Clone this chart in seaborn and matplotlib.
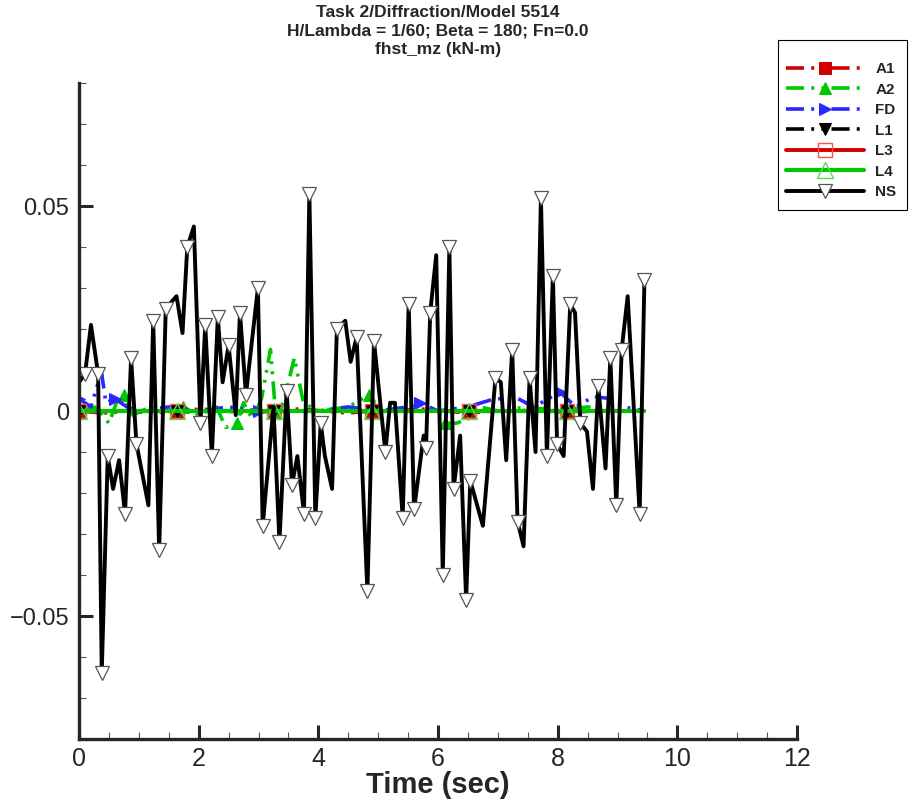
"""
Time history of fhst_mz for Task 2 / Diffraction / Model 5514.
"""

import matplotlib

matplotlib.use("Agg")
import matplotlib.pyplot as plt
import seaborn as sns
from matplotlib.patches import Rectangle
from matplotlib.ticker import MultipleLocator

# --- data ----------------------------------------------------------------
ns_t = [0.00, 0.10, 0.20, 0.32, 0.38, 0.48, 0.57, 0.67, 0.77, 0.87, 0.96, 1.16,
        1.24, 1.34, 1.45, 1.63, 1.73, 1.81, 1.92, 2.03, 2.11, 2.22, 2.32, 2.40,
        2.50, 2.62, 2.69, 2.79, 2.99, 3.07, 3.25, 3.35, 3.47, 3.56, 3.65, 3.76,
        3.85, 3.95, 4.04, 4.11, 4.23, 4.31, 4.45, 4.54, 4.64, 4.82, 4.93, 5.12,
        5.20, 5.28, 5.41, 5.51, 5.60, 5.76, 5.80, 5.87, 5.97, 6.08, 6.19, 6.26,
        6.37, 6.47, 6.54, 6.75, 6.96, 7.05, 7.14, 7.24, 7.33, 7.43, 7.53, 7.63,
        7.72, 7.82, 7.92, 7.99, 8.10, 8.21, 8.29, 8.38, 8.49, 8.59, 8.68, 8.80,
        8.88, 8.98, 9.07, 9.17, 9.37, 9.45]
ns_v = [0.007, 0.009, 0.021, 0.009, -0.064, -0.011, -0.019, -0.012, -0.025, 0.013,
        -0.008, -0.023, 0.022, -0.034, 0.025, 0.028, 0.019, 0.040, 0.045, -0.003,
        0.021, -0.011, 0.023, 0.007, 0.016, -0.001, 0.024, 0.004, 0.030, -0.028,
        0.001, -0.032, 0.005, -0.018, -0.011, -0.025, 0.053, -0.026, -0.003, -0.011,
        -0.019, 0.020, 0.022, 0.012, 0.018, -0.044, 0.017, -0.010, 0.002, 0.002,
        -0.026, 0.026, -0.024, -0.006, -0.009, 0.024, 0.038, -0.040, 0.040, -0.019,
        -0.006, -0.046, -0.017, -0.028, 0.008, 0.007, -0.012, 0.015, -0.027, -0.033,
        0.008, -0.010, 0.052, -0.011, 0.033, -0.008, -0.011, 0.026, 0.024, -0.003,
        -0.005, -0.019, 0.006, -0.014, 0.013, -0.023, 0.015, 0.028, -0.025, 0.032]
ns_marked = [0, 1, 0, 1, 1, 1, 0, 0, 1, 1, 1, 0,
             1, 1, 1, 0, 0, 1, 0, 1, 1, 1, 1, 0,
             1, 0, 1, 1, 1, 1, 0, 1, 1, 1, 0, 1,
             1, 1, 1, 0, 0, 1, 0, 0, 1, 1, 1, 1,
             0, 0, 1, 1, 1, 0, 1, 1, 0, 1, 1, 1,
             0, 1, 1, 0, 1, 0, 0, 1, 1, 0, 1, 0,
             1, 1, 1, 1, 0, 1, 0, 1, 0, 0, 1, 0,
             1, 1, 1, 0, 1, 1]

a2_t = [0.0, 0.3, 0.5, 0.65, 0.75, 0.9, 1.2, 1.5, 1.74, 2.0, 2.3, 2.45, 2.64,
        2.75, 2.9, 3.05, 3.2, 3.3, 3.45, 3.6, 3.75, 4.0, 4.5, 4.85, 5.0, 5.5,
        6.0, 6.12, 6.3, 6.5, 6.7, 7.0, 7.5, 8.0, 8.5, 9.0, 9.45]
a2_v = [0.0, 0.001, -0.003, 0.003, 0.004, -0.001, 0.001, 0.0, 0.001, -0.001,
        0.001, -0.004, -0.003, 0.002, -0.002, 0.003, 0.015, -0.003, 0.004, 0.013,
        0.002, 0.0, 0.001, 0.004, 0.0, 0.0, 0.0, -0.003, -0.003, -0.002, 0.001,
        0.0, 0.001, 0.0, 0.001, 0.0, 0.0]

fd_t = [0.0, 0.1, 0.2, 0.3, 0.38, 0.45, 0.6, 0.8, 1.0, 1.5, 2.0, 2.5, 3.0, 3.5,
        4.0, 4.5, 5.0, 5.5, 5.7, 6.0, 6.5, 6.95, 7.34, 7.6, 8.04, 8.3, 8.6, 8.9,
        9.1, 9.45]
fd_v = [0.003, 0.002, 0.001, 0.006, 0.009, 0.002, 0.003, 0.001, 0.0, 0.001, 0.0,
        0.001, 0.0, 0.0, 0.0, 0.001, 0.0, 0.001, 0.002, 0.0, 0.001, 0.003, 0.003,
        0.001, 0.0046, 0.001, 0.0035, 0.003, 0.001, 0.0]

a1_t = [0.0, 0.41, 0.82, 1.22, 1.63, 2.04, 2.45, 2.85, 3.26, 3.67, 4.08, 4.48,
        4.89, 5.30, 5.71, 6.11, 6.52, 6.93, 7.34, 7.74, 8.15, 8.56, 8.97, 9.45]
a1_v = [0.0, -0.0005, 0.0, -0.0005, 0.0, 0.0005, 0.0, -0.0005, 0.0, 0.0005, 0.0,
        -0.0005, 0.0, 0.0, 0.0005, 0.0, -0.0005, 0.0, 0.0, 0.0005, -0.0005, 0.0,
        0.0, 0.0]
l1_v = [0.0] * len(a1_t)
l3_v = [0.0] * len(a1_t)
l4_v = [0.0] * len(a1_t)

title_lines = ["Task 2/Diffraction/Model 5514",
               "H/Lambda = 1/60; Beta = 180; Fn=0.0",
               "fhst_mz (kN-m)"]

# --- figure ----------------------------------------------------------------
sns.set_style("ticks")
plt.rcParams["font.family"] = ["Liberation Sans", "DejaVu Sans"]
narrow = ["Liberation Sans Narrow", "Liberation Sans", "DejaVu Sans"]

fig = plt.figure(figsize=(9.11, 8.05), dpi=100)
ax = fig.add_axes([79 / 911, 1 - 739 / 805, 718 / 911, 656 / 805])

dashdotdot = (0, (5, 2, 0.8, 2, 0.8, 2))

common = dict(ax=ax, errorbar=None, sort=False)
sns.lineplot(x=a1_t, y=a1_v, color="#d00000", linewidth=2.6, linestyle=dashdotdot,
             marker="s", markersize=8, markevery=4, markeredgecolor="#d00000",
             label="A1", **common)
sns.lineplot(x=a2_t, y=a2_v, color="#00c800", linewidth=2.6, linestyle=dashdotdot,
             marker="^", markersize=9, markevery=[4, 8, 12, 23, 27],
             markeredgecolor="#00c800", label="A2", **common)
sns.lineplot(x=fd_t, y=fd_v, color="#2828ff", linewidth=2.6, linestyle=dashdotdot,
             marker=">", markersize=9, markevery=6, markeredgecolor="#2828ff",
             label="FD", **common)
sns.lineplot(x=a1_t, y=l1_v, color="black", linewidth=2.6, linestyle=dashdotdot,
             marker="v", markersize=8, markevery=4, markeredgecolor="black",
             label="L1", **common)
sns.lineplot(x=a1_t, y=l3_v, color="#d00000", linewidth=2.8, linestyle="-",
             marker="s", markersize=10, markevery=4, markerfacecolor="none",
             markeredgecolor="#ff5050", markeredgewidth=1.0, label="L3", **common)
sns.lineplot(x=a1_t, y=l4_v, color="#00c800", linewidth=3.0, linestyle="-",
             marker="^", markersize=11, markevery=4, markerfacecolor="none",
             markeredgecolor="#50e050", markeredgewidth=1.0, label="L4", **common)
sns.lineplot(x=ns_t, y=ns_v, color="black", linewidth=2.8, linestyle="-",
             marker="v", markersize=10.5, markevery=[bool(m) for m in ns_marked],
             markerfacecolor="white", markeredgecolor="#555555",
             markeredgewidth=0.9, label="NS", **common)

ax.set_xlim(0, 12)
ax.set_ylim(-0.08, 0.08)
ax.xaxis.set_major_locator(MultipleLocator(2))
ax.xaxis.set_minor_locator(MultipleLocator(0.5))
ax.yaxis.set_major_locator(MultipleLocator(0.05))
ax.yaxis.set_minor_locator(MultipleLocator(0.01))
ax.set_yticks([-0.05, 0, 0.05])
ax.set_yticklabels(["\u22120.05", "0", "0.05"])
ax.set_xticks(range(0, 13, 2))
ax.set_xticklabels([str(v) for v in range(0, 13, 2)], family=narrow)

sns.despine(ax=ax)
for side in ("left", "bottom"):
    ax.spines[side].set_linewidth(2.4)
ax.tick_params(which="major", direction="in", length=10, width=2.2,
               labelsize=17, pad=7)
ax.tick_params(which="minor", direction="in", length=5, width=0.8,
               color="#555555")
ax.tick_params(axis="x", which="major", labelsize=18, pad=6)

ax.set_xlabel("Time (sec)", fontsize=21, fontweight="bold", family=narrow,
              labelpad=0)
ax.set_ylabel("")

fig.text(438 / 911, 1 - 5 / 805, "\n".join(title_lines),
         ha="center", va="top", fontsize=12.5, fontweight="bold", linespacing=1.3)

# legend: entries without frame, box drawn separately to match spacing
ax.get_legend().remove()
handles, labels = ax.get_legend_handles_labels()
fig.legend(handles, labels, loc="upper left",
           bbox_to_anchor=(786 / 911, 1 - 62 / 805), frameon=False,
           numpoints=1, handlelength=5.1, handletextpad=0.75,
           labelspacing=0.43, borderpad=0, borderaxespad=0,
           prop={"weight": "bold", "size": 11})
fig.add_artist(Rectangle((778 / 911, 1 - 210 / 805), 129 / 911, 170 / 805,
                         transform=fig.transFigure, fill=False,
                         edgecolor="black", linewidth=0.8))

fig.savefig("out.png", dpi=100)
